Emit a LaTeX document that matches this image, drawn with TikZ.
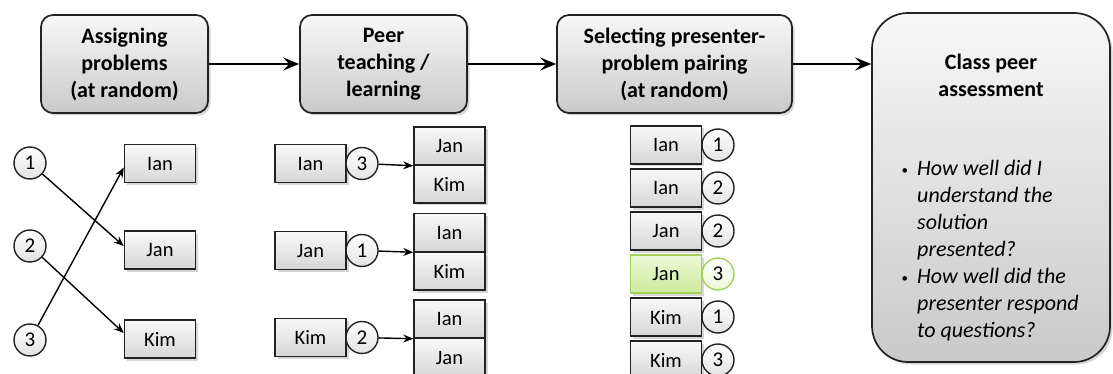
\documentclass[tikz,border=0pt]{standalone}
\usepackage{fontspec}
\setmainfont{Carlito}
\usepackage{tikz}
\usetikzlibrary{arrows.meta,shadows}
\definecolor{edge}{HTML}{222222}
\definecolor{limeedge}{HTML}{A3D25A}
\definecolor{limetop}{HTML}{EEF8D8}
\definecolor{limebot}{HTML}{CDEB9C}
\tikzset{
  shd/.style={drop shadow={opacity=0.32,shadow xshift=2.5pt,shadow yshift=-2.5pt}},
  stage/.style={draw=edge,line width=1.7pt,rounded corners=12pt,top color=gray!6,bottom color=gray!42,shd,align=center,font=\bfseries\fontsize{22}{27}\selectfont,minimum height=98pt,inner sep=0pt},
  who/.style={draw=edge,line width=1.5pt,top color=gray!5,bottom color=gray!32,shd,minimum width=71pt,minimum height=38pt,inner sep=0pt,font=\fontsize{20.5}{24}\selectfont},
  pick/.style={who,draw=limeedge,top color=limetop,bottom color=limebot},
  num/.style={circle,draw=edge,line width=1.4pt,top color=white,bottom color=gray!22,minimum size=32pt,inner sep=0pt,font=\fontsize{21}{24}\selectfont},
  picknum/.style={num,draw=limeedge,top color=white,bottom color=limetop},
  flow/.style={line width=2.6pt,-{Stealth[length=16pt,width=13pt,inset=6pt]}},
  lnk/.style={line width=1.4pt,-{Stealth[length=10pt,width=8pt]}}
}
\newcommand{\qbul}{\llap{\upshape\fontsize{13}{13}\selectfont\raisebox{1pt}{\textbullet}\hspace{9pt}}}

\begin{document}
\begin{tikzpicture}[x=1pt,y=-1pt]
\useasboundingbox (0,0) rectangle (1113,374);
% stages
\node[stage,minimum width=167pt] (assign) at (124.5,64) {Assigning\\problems\\(at random)};
\node[stage,minimum width=167pt] (peer) at (383.5,64) {Peer\\teaching /\\learning};
\node[stage,minimum width=235pt] (select) at (674.5,64) {Selecting presenter-\\problem pairing\\(at random)};
\node[stage,rounded corners=36pt,minimum width=238pt,minimum height=349pt] (classpa) at (991,187.5) {};
\node[align=center,font=\bfseries\fontsize{22}{27}\selectfont] (cpatitle) at (991,75) {Class peer\\assessment};
\node[anchor=north west,inner sep=0pt,align=left,font=\itshape\fontsize{22}{27}\selectfont] (cpaqs) at (917,160)
  {\qbul How well did I\\understand the\\solution\\presented?\\
   \qbul How well did the\\presenter respond\\to questions?};
\draw[flow] (assign) -- (peer);
\draw[flow] (peer) -- (select);
\draw[flow] (select.east) -- (select.east -| classpa.west);

% assigning
\node[num] (p1) at (30,163) {1};
\node[num] (p2) at (30,246) {2};
\node[num] (p3) at (30,340) {3};
\node[who] (ianA) at (160,163.5) {Ian};
\node[who] (janA) at (160,250) {Jan};
\node[who] (kimA) at (160,339) {Kim};
\draw[lnk] (p1) -- ([yshift=4pt]janA.west);
\draw[lnk] (p2) -- ([yshift=6pt]kimA.west);
\draw[lnk] (p3) -- ([yshift=-4pt]ianA.west);

% peer teaching
\node[who] (ianB) at (310.5,163.5) {Ian};
\node[num] (q3) at (362,163.5) {3};
\node[who] (s1a) at (449.5,146) {Jan};
\node[who] (s1b) at (449.5,184) {Kim};
\draw[lnk] (q3) -- (s1a.south west);
\node[who] (janB) at (310.5,250.5) {Jan};
\node[num] (q1) at (362,250.5) {1};
\node[who] (s2a) at (449.5,232.5) {Ian};
\node[who] (s2b) at (449.5,271) {Kim};
\draw[lnk] (q1) -- (s2a.south west);
\node[who] (kimB) at (310.5,337.5) {Kim};
\node[num] (q2) at (362,337.5) {2};
\node[who] (s3a) at (449.5,319) {Ian};
\node[who] (s3b) at (449.5,357.5) {Jan};
\draw[lnk] (q2) -- (s3a.south west);

% pairing
\node[who] (r1) at (666,145) {Ian};   \node[num] (r1n) at (718,145) {1};
\node[who] (r2) at (666,188) {Ian};   \node[num] (r2n) at (718,188) {2};
\node[who] (r3) at (666,231) {Jan};   \node[num] (r3n) at (718,231) {2};
\node[pick] (r4) at (666,274) {Jan};  \node[picknum] (r4n) at (718,274) {3};
\node[who] (r5) at (666,317) {Kim};   \node[num] (r5n) at (718,317) {1};
\node[who] (r6) at (666,360) {Kim};   \node[num] (r6n) at (718,360) {3};
\end{tikzpicture}
\end{document}
